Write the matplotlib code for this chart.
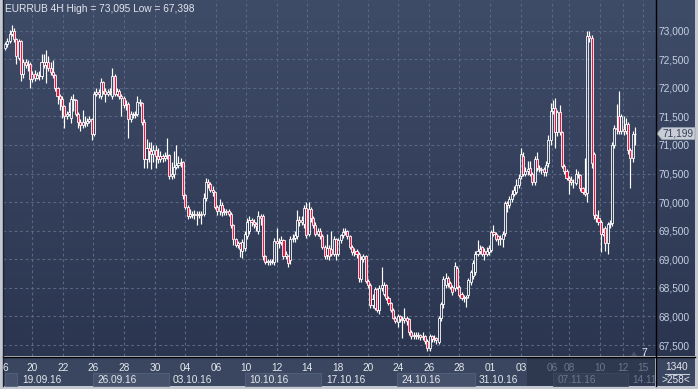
import numpy as np
import matplotlib
matplotlib.use("Agg")
import matplotlib.pyplot as plt
from matplotlib.colors import LinearSegmentedColormap
from matplotlib.patches import Rectangle, Polygon

plt.rcParams['font.family'] = ['Liberation Sans', 'DejaVu Sans']

# EURRUB 4H bars
opens = [
    72.70, 72.76, 72.82, 72.95, 73.00, 72.85, 72.52, 72.82, 72.25, 72.45, 72.40, 72.42,
    72.16, 72.25, 72.18, 72.22, 72.20, 72.45, 72.40, 72.45, 72.35, 72.28, 72.22, 72.00,
    71.85, 71.80, 71.68, 71.50, 71.55, 71.48, 71.80, 71.78, 71.55, 71.40, 71.35, 71.40,
    71.38, 71.42, 71.45, 71.20, 71.90, 71.93, 71.85, 72.10, 71.95, 71.90, 71.92, 71.85,
    72.20, 71.90, 71.95, 71.85, 71.82, 71.70, 71.72, 71.45, 71.55, 71.52, 71.55, 71.75,
    71.73, 71.40, 70.75, 70.95, 70.90, 70.85, 70.92, 70.80, 70.75, 70.80, 70.78, 70.80,
    70.82, 70.45, 70.50, 70.62, 70.65, 70.68, 70.70, 70.12, 69.92, 69.75, 69.80, 69.78,
    69.80, 69.78, 69.80, 69.80, 70.08, 70.35, 70.32, 70.22, 70.18, 69.92, 69.85, 69.95,
    69.82, 69.85, 69.85, 69.80, 69.60, 69.35, 69.25, 69.28, 69.15, 69.20, 69.40, 69.50,
    69.68, 69.65, 69.62, 69.50, 69.75, 69.75, 69.05, 68.95, 68.97, 68.95, 68.95, 69.32,
    69.28, 69.30, 69.33, 69.05, 69.05, 68.98, 69.35, 69.38, 69.40, 69.68, 69.65, 69.62,
    69.90, 69.45, 69.88, 69.72, 69.60, 69.45, 69.50, 69.40, 69.22, 69.08, 69.20, 69.18,
    69.10, 69.35, 69.10, 69.33, 69.42, 69.48, 69.50, 69.40, 69.22, 69.12, 69.15, 69.10,
    68.65, 69.00, 69.05, 68.62, 68.55, 68.20, 68.15, 68.48, 68.12, 68.50, 68.40, 68.55,
    68.33, 68.24, 68.12, 67.98, 67.90, 68.00, 67.95, 67.93, 67.98, 67.95, 67.73, 67.65,
    67.68, 67.66, 67.67, 67.64, 67.66, 67.57, 67.45, 67.65, 67.60, 67.62, 67.55, 67.97,
    68.22, 68.55, 68.67, 68.58, 68.52, 68.50, 68.85, 68.52, 68.40, 68.32, 68.34, 68.38,
    68.60, 68.70, 68.78, 69.10, 69.15, 69.21, 69.15, 69.10, 69.12, 69.16, 69.47, 69.45,
    69.40, 69.35, 69.35, 69.46, 69.98, 69.95, 70.05, 70.15, 70.18, 70.30, 70.45, 70.80,
    70.50, 70.55, 70.60, 70.50, 70.35, 70.76, 70.60, 70.58, 70.58, 70.52, 70.68, 71.08,
    71.60, 71.64, 71.22, 71.58, 71.22, 70.63, 70.55, 70.42, 70.38, 70.36, 70.33, 70.50,
    70.48, 70.24, 70.18, 70.16, 72.91, 72.88, 70.85, 69.77, 69.72, 69.65, 69.44, 69.55,
    69.28, 69.62, 69.63, 71.00, 71.30, 71.51, 71.25, 71.28, 71.25, 71.36, 70.91, 70.77,
    71.20]
highs = [
    72.80, 72.88, 73.02, 73.095, 73.05, 72.88, 72.85, 72.84, 72.50, 72.50, 72.48, 72.45,
    72.30, 72.32, 72.28, 72.30, 72.60, 72.60, 72.67, 72.55, 72.45, 72.48, 72.25, 72.02,
    71.90, 71.85, 71.70, 71.60, 71.75, 71.85, 71.90, 71.80, 71.58, 71.45, 71.62, 71.50,
    71.48, 71.50, 71.48, 71.95, 72.00, 71.98, 72.18, 72.12, 72.00, 71.98, 72.00, 72.35,
    72.25, 72.00, 71.98, 71.90, 71.85, 71.78, 71.75, 71.60, 71.58, 71.60, 71.85, 71.80,
    71.76, 71.45, 71.10, 71.05, 71.05, 71.00, 71.00, 70.95, 70.90, 70.85, 70.88, 71.13,
    70.85, 70.70, 70.90, 71.00, 70.80, 70.78, 70.72, 70.15, 69.95, 69.88, 69.85, 69.86,
    69.84, 69.85, 69.84, 70.16, 70.42, 70.40, 70.35, 70.28, 70.20, 69.95, 70.05, 70.00,
    69.90, 69.88, 69.88, 69.82, 69.62, 69.38, 69.32, 69.30, 69.35, 69.50, 69.72, 69.75,
    69.72, 69.70, 69.65, 69.85, 69.80, 69.80, 69.08, 69.00, 69.00, 69.00, 69.38, 69.55,
    69.38, 69.40, 69.35, 69.15, 69.08, 69.40, 69.45, 69.50, 69.86, 69.75, 69.75, 69.95,
    70.00, 70.00, 69.92, 69.75, 69.65, 69.55, 69.55, 69.45, 69.25, 69.45, 69.25, 69.50,
    69.40, 69.38, 69.38, 69.45, 69.54, 69.55, 69.52, 69.42, 69.25, 69.20, 69.18, 69.12,
    69.05, 69.10, 69.08, 68.65, 68.58, 68.40, 68.52, 68.50, 68.55, 68.86, 68.60, 68.57,
    68.36, 68.26, 68.15, 68.00, 68.05, 68.03, 68.00, 68.15, 68.00, 67.98, 67.76, 67.72,
    67.72, 67.72, 67.70, 67.72, 67.68, 67.60, 67.70, 67.68, 67.68, 67.64, 68.00, 68.26,
    68.70, 68.76, 68.70, 68.62, 68.55, 68.95, 68.88, 68.55, 68.42, 68.38, 68.38, 68.68,
    68.82, 68.98, 69.15, 69.33, 69.25, 69.24, 69.20, 69.22, 69.25, 69.52, 69.60, 69.48,
    69.43, 69.42, 69.50, 70.02, 70.02, 70.10, 70.22, 70.28, 70.40, 70.50, 70.94, 70.88,
    70.62, 70.72, 70.72, 70.52, 70.80, 70.87, 70.65, 70.62, 70.62, 70.72, 71.18, 71.74,
    71.78, 71.83, 71.62, 71.70, 71.25, 70.66, 70.58, 70.45, 70.45, 70.40, 70.58, 70.55,
    70.50, 70.26, 70.78, 73.00, 73.00, 72.92, 70.88, 69.80, 69.86, 69.68, 69.55, 69.58,
    69.65, 69.68, 71.05, 71.35, 71.72, 71.95, 71.55, 71.50, 71.48, 71.40, 70.94, 71.25,
    71.32]
lows = [
    72.66, 72.72, 72.78, 72.90, 72.80, 72.42, 72.48, 72.12, 72.18, 72.35, 72.30, 72.00,
    72.10, 72.12, 72.15, 72.14, 72.15, 72.35, 72.09, 72.30, 72.22, 72.18, 71.95, 71.72,
    71.62, 71.48, 71.30, 71.45, 71.50, 71.38, 71.60, 71.50, 71.30, 71.25, 71.30, 71.32,
    71.34, 71.38, 71.08, 71.15, 71.85, 71.82, 71.80, 71.90, 71.75, 71.85, 71.88, 71.80,
    71.85, 71.85, 71.80, 71.50, 71.65, 71.62, 71.13, 71.40, 71.48, 71.48, 71.50, 71.68,
    71.35, 70.60, 70.60, 70.70, 70.58, 70.70, 70.60, 70.68, 70.70, 70.70, 70.72, 70.75,
    70.40, 70.40, 70.42, 70.58, 70.60, 70.62, 70.05, 69.88, 69.70, 69.72, 69.72, 69.70,
    69.60, 69.72, 69.62, 69.75, 70.02, 70.25, 70.18, 70.10, 69.88, 69.78, 69.78, 69.75,
    69.78, 69.78, 69.75, 69.55, 69.25, 69.22, 69.20, 69.04, 69.02, 69.15, 69.35, 69.45,
    69.58, 69.55, 69.50, 69.45, 69.60, 68.98, 68.92, 68.90, 68.90, 68.92, 68.90, 68.95,
    69.20, 69.25, 69.00, 69.00, 68.86, 68.92, 69.30, 69.30, 69.35, 69.58, 69.60, 69.55,
    69.38, 69.40, 69.65, 69.55, 69.40, 69.40, 69.35, 69.18, 69.00, 69.00, 68.98, 69.05,
    69.05, 68.98, 69.05, 69.28, 69.38, 69.42, 69.35, 69.18, 69.08, 69.05, 69.02, 68.60,
    68.60, 68.95, 68.58, 68.50, 68.15, 68.15, 68.12, 68.08, 68.05, 68.45, 68.35, 68.28,
    68.20, 68.08, 67.95, 67.88, 67.82, 67.90, 67.62, 67.88, 67.85, 67.68, 67.60, 67.60,
    67.60, 67.60, 67.58, 67.58, 67.52, 67.398, 67.40, 67.55, 67.55, 67.52, 67.52, 67.92,
    68.15, 68.50, 68.52, 68.48, 68.38, 68.45, 68.48, 68.34, 68.28, 68.25, 68.17, 68.33,
    68.55, 68.65, 68.72, 69.05, 69.10, 69.05, 68.99, 69.05, 69.08, 69.12, 69.40, 69.32,
    69.25, 69.25, 69.22, 69.40, 69.82, 69.90, 70.00, 70.10, 70.15, 70.25, 70.40, 70.45,
    70.45, 70.48, 70.45, 70.30, 70.30, 70.55, 70.52, 70.50, 70.45, 70.45, 70.62, 71.00,
    71.55, 70.94, 71.15, 71.18, 70.60, 70.50, 70.38, 70.14, 70.30, 70.24, 70.30, 70.42,
    70.20, 70.14, 70.10, 70.00, 72.80, 70.60, 69.70, 69.65, 69.60, 69.13, 69.40, 69.15,
    69.10, 69.55, 69.58, 70.95, 71.20, 71.20, 71.20, 71.18, 71.20, 70.85, 70.24, 70.70,
    71.00]
closes = [
    72.76, 72.82, 72.95, 73.00, 72.85, 72.55, 72.82, 72.25, 72.45, 72.40, 72.42, 72.16,
    72.25, 72.18, 72.22, 72.20, 72.45, 72.40, 72.45, 72.35, 72.28, 72.22, 72.00, 71.85,
    71.80, 71.68, 71.50, 71.55, 71.58, 71.80, 71.78, 71.55, 71.40, 71.35, 71.40, 71.38,
    71.42, 71.45, 71.20, 71.90, 71.93, 71.90, 72.10, 71.95, 71.90, 71.92, 71.95, 72.20,
    71.90, 71.95, 71.85, 71.82, 71.70, 71.72, 71.45, 71.55, 71.52, 71.55, 71.75, 71.73,
    71.40, 70.75, 70.95, 70.90, 70.85, 70.92, 70.80, 70.75, 70.80, 70.78, 70.80, 70.82,
    70.45, 70.50, 70.62, 70.65, 70.68, 70.70, 70.12, 69.92, 69.75, 69.80, 69.78, 69.80,
    69.78, 69.80, 69.78, 70.08, 70.35, 70.32, 70.22, 70.18, 69.92, 69.85, 69.95, 69.82,
    69.85, 69.82, 69.80, 69.60, 69.35, 69.25, 69.28, 69.18, 69.30, 69.45, 69.65, 69.68,
    69.65, 69.62, 69.58, 69.75, 69.72, 69.05, 68.95, 68.97, 68.95, 68.96, 69.32, 69.28,
    69.30, 69.33, 69.05, 69.10, 68.94, 69.35, 69.38, 69.42, 69.68, 69.65, 69.68, 69.90,
    69.42, 69.88, 69.72, 69.60, 69.45, 69.50, 69.40, 69.22, 69.05, 69.20, 69.05, 69.10,
    69.35, 69.10, 69.33, 69.42, 69.48, 69.50, 69.40, 69.22, 69.12, 69.15, 69.10, 68.68,
    69.00, 69.05, 68.62, 68.55, 68.20, 68.30, 68.48, 68.12, 68.50, 68.55, 68.55, 68.33,
    68.24, 68.12, 67.98, 67.92, 68.00, 67.95, 67.93, 67.98, 67.92, 67.73, 67.65, 67.68,
    67.66, 67.67, 67.64, 67.66, 67.57, 67.45, 67.65, 67.60, 67.62, 67.58, 67.97, 68.22,
    68.65, 68.67, 68.58, 68.52, 68.43, 68.88, 68.52, 68.38, 68.32, 68.34, 68.33, 68.63,
    68.78, 68.93, 69.10, 69.15, 69.18, 69.10, 69.10, 69.15, 69.20, 69.47, 69.45, 69.36,
    69.35, 69.38, 69.45, 69.98, 69.95, 70.05, 70.15, 70.22, 70.30, 70.43, 70.85, 70.50,
    70.55, 70.58, 70.50, 70.35, 70.76, 70.60, 70.58, 70.56, 70.52, 70.65, 71.08, 71.60,
    71.64, 71.22, 71.58, 71.22, 70.63, 70.55, 70.42, 70.38, 70.36, 70.35, 70.50, 70.48,
    70.24, 70.18, 70.14, 72.91, 72.88, 70.68, 69.77, 69.72, 69.65, 69.44, 69.48, 69.28,
    69.62, 69.63, 71.00, 71.30, 71.28, 71.25, 71.50, 71.24, 71.36, 70.91, 70.77, 71.20,
    71.199]

title = "EURRUB 4H High = 73,095 Low = 67,398"
price_ticks = [67.5, 68.0, 68.5, 69.0, 69.5, 70.0, 70.5, 71.0, 71.5, 72.0, 72.5, 73.0]
last_price = 71.199
day_labels = ["6", "20", "22", "26", "28", "30", "04", "06", "10", "12", "14", "18",
              "20", "24", "26", "28", "01", "03", "06", "08", "10", "12", "15"]
week_labels = ["19.09.16", "26.09.16", "03.10.16", "10.10.16", "17.10.16",
               "24.10.16", "31.10.16", "07.11.16", "14.11"]
bars_total = "1340"
bars_shown = ">258<"
marker_text = "7"

# ---- layout (pixels) ----
W, H = 698, 389
day_px = [5, 32, 63, 93, 124, 155, 185, 216, 246, 277, 307, 338,
          368, 398, 429, 459, 490, 521, 552, 569, 600, 623, 643]
week_edges = [5, 93, 169, 245, 321, 397, 475, 553, 628, 655]
week_text_px = [22, 97, 173, 249, 326, 401, 479, 558, 632]
first_px, last_px = 5, 635
ymax, ymin = 73.537, 67.308

fig = plt.figure(figsize=(W / 100, H / 100), dpi=100, facecolor='#c4c9d1')


def px_axes(x0, y0, x1, y1):
    return fig.add_axes([x0 / W, 1 - y1 / H, (x1 - x0) / W, (y1 - y0) / H])


# gradient background behind chart and price scale
bg = px_axes(3, 0, 695, 356)
cmap = LinearSegmentedColormap.from_list('bg', ['#3f4c68', '#2b3550'])
bg.imshow(np.linspace(0, 1, 256)[:, None], cmap=cmap, aspect='auto', extent=[0, 1, 0, 1])
bg.set_axis_off()

ax = px_axes(3, 0, 655, 356)
ax.set_facecolor('none')

o, h, l, c = map(np.array, (opens, highs, lows, closes))
x = np.arange(len(c))
sp = (last_px - first_px) / (len(c) - 1)
top = np.maximum(o, c)
bot = np.minimum(o, c)
ax.vlines(x, top, h, color='white', lw=0.85, zorder=3)
ax.vlines(x, l, bot, color='white', lw=0.85, zorder=3)
fills = ['#ec1640' if cc < oo else 'none' for oo, cc in zip(o, c)]
ax.bar(x, top - bot, bottom=bot, width=0.9, color=fills, edgecolor='white',
       linewidth=0.6, zorder=4)

ax.set_xlim((3 - first_px) / sp, (655 - first_px) / sp)
ax.set_ylim(ymin, ymax)
ax.set_xticks([(p - first_px) / sp for p in day_px[1:]])
ax.set_yticks(price_ticks)
ax.set_yticklabels([f"{v:.3f}".replace('.', ',') for v in price_ticks])
ax.yaxis.tick_right()
ax.tick_params(axis='x', length=0, labelbottom=False)
ax.tick_params(axis='y', length=0, pad=2.2, labelsize=7.3, labelcolor='#c6d0e2')
ax.grid(True, color='#5a6783', lw=0.8, ls=(0, (2.5, 2.5)))
ax.set_axisbelow(True)
for s in ax.spines.values():
    s.set_visible(False)

# overlay in pixel units for the frame, date strip and labels
ov = px_axes(0, 0, W, H)
ov.set_xlim(0, W)
ov.set_ylim(H, 0)
ov.set_axis_off()
ov.set_facecolor('none')

ov.add_patch(Rectangle((3, 357), 652, 29, fc='#3a465f', ec='none'))
ov.add_patch(Rectangle((656, 357), 39, 29, fc='#3a465f', ec='none'))
for i in (1, 3, 5):
    ov.add_patch(Rectangle((week_edges[i], 373), week_edges[i + 1] - week_edges[i], 13,
                           fc='#46526b', ec='#56627b', lw=0.6))
ov.add_patch(Rectangle((5, 373), 12, 13, fc='#46526b', ec='#56627b', lw=0.6))
ov.add_patch(Rectangle((527, 357), 128, 29, fc='#2e384e', ec='none'))
ov.add_patch(Rectangle((553, 373), 75, 13, fc='#343f56', ec='#3d4860', lw=0.6))

for i, (lab, p) in enumerate(zip(day_labels, day_px)):
    ov.text(p, 368, lab, ha='center', va='center', fontsize=7.3,
            color='#6b778f' if i >= 18 else '#e4e8ee')
for i, (lab, p) in enumerate(zip(week_labels, week_text_px)):
    ov.text(p, 380, lab, ha='left', va='center', fontsize=7.3,
            color='#6b778f' if i >= 7 else '#e4e8ee')

ov.text(677, 367, bars_total, ha='center', va='center', fontsize=7.3, color='#e4e8ee')
ov.plot([665, 689], [374, 374], color='#c8cfdc', lw=0.8)
ov.text(676, 380, bars_shown, ha='center', va='center', fontsize=7.3, color='#e4e8ee')

# frame lines
ov.plot([655.5, 655.5], [0, 386], color='black', lw=1)
ov.plot([3, 695], [356.5, 356.5], color='black', lw=1)
ov.plot([2.5, 2.5], [0, 386], color='#1c2333', lw=1)

# last price tag
py = (ymax - last_price) / (ymax - ymin) * 356
ov.add_patch(Polygon([(657, py), (662, py - 6), (695, py - 6), (695, py + 6), (662, py + 6)],
                     closed=True, fc='#c9ced6', ec='#9aa2b0', lw=0.6))
ov.text(663, py, f"{last_price:.3f}".replace('.', ','), ha='left', va='center',
        fontsize=7.3, color='#34405a')

# bars-ahead marker
ov.add_patch(Polygon([(631, 356), (637, 356), (634, 351.5)], closed=True, fc='#4a5366', ec='none'))
ov.text(644, 353, marker_text, ha='center', va='center', fontsize=7.5, color='#e6e9ee')

ov.text(5, 8.5, title, ha='left', va='center', fontsize=7.3, color='#e2e6ec')

fig.savefig('out.png', dpi=100, facecolor=fig.get_facecolor())
